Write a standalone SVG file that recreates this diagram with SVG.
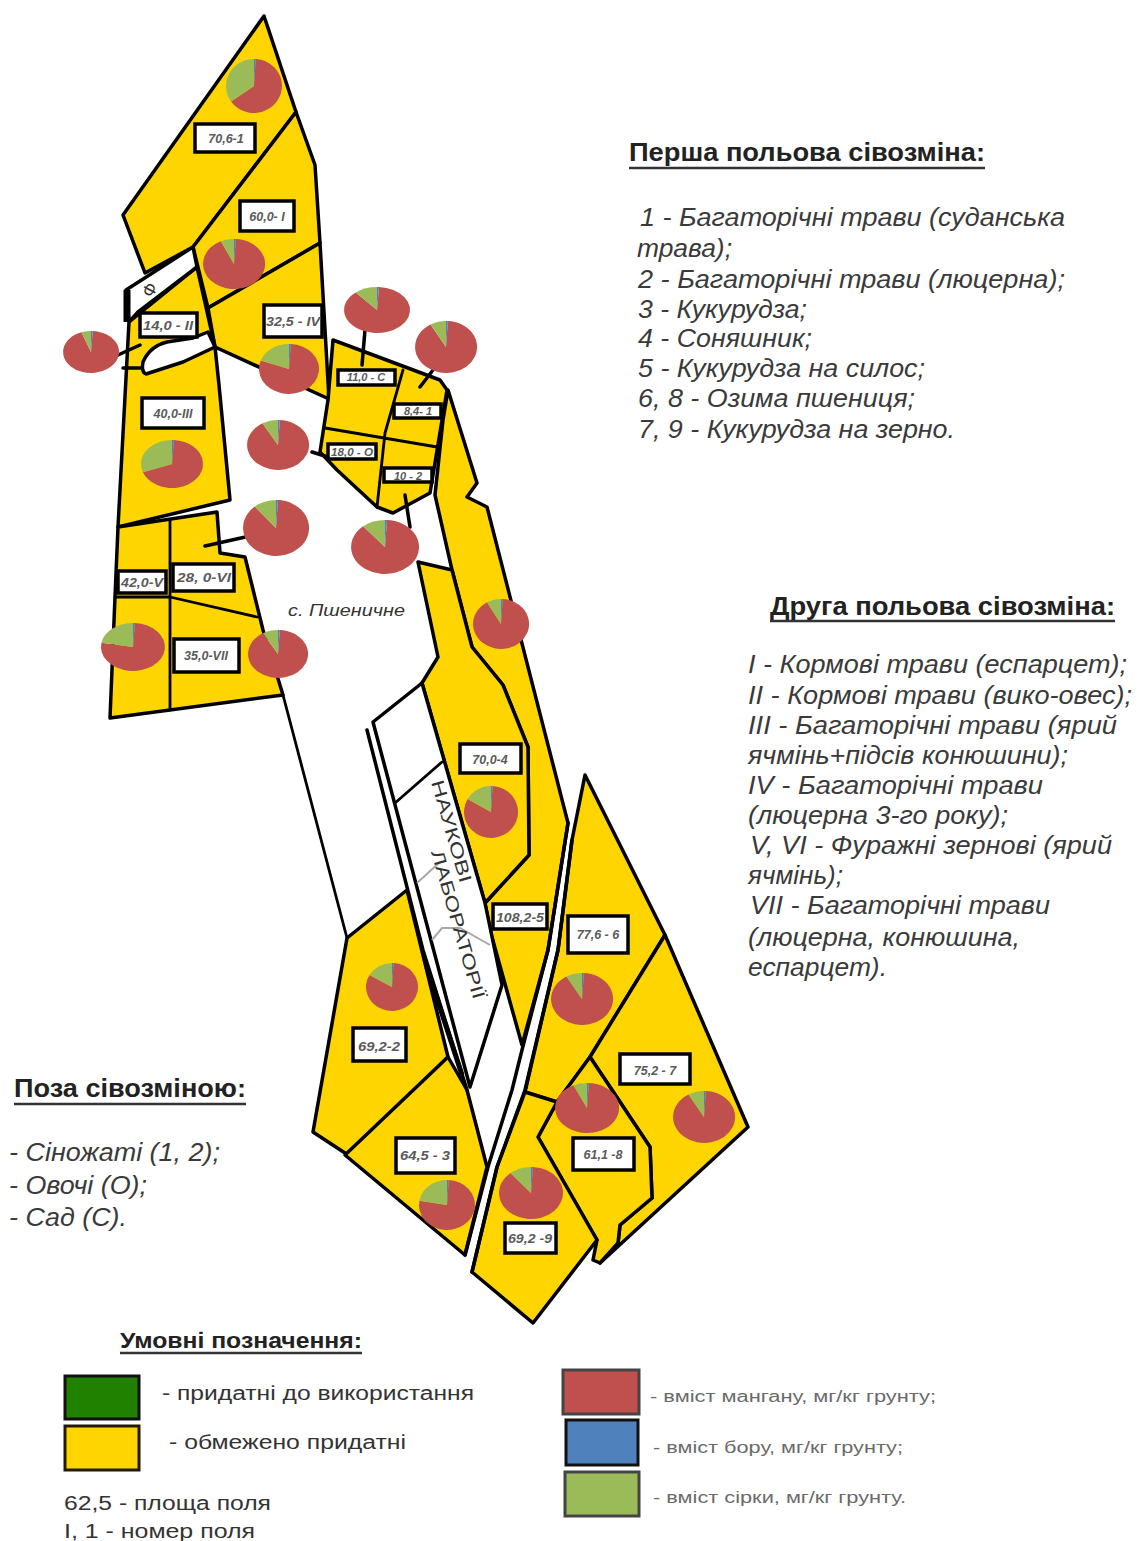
<svg xmlns="http://www.w3.org/2000/svg" width="1137" height="1541" viewBox="0 0 1137 1541">
<style>
text{font-family:"Liberation Sans",Arial,sans-serif;fill:#333}
.f{fill:#ffd500;stroke:#000;stroke-width:3.5;stroke-linejoin:round}
.w{fill:#fff;stroke:#000;stroke-width:3.5;stroke-linejoin:round}
.c{fill:none;stroke:#000;stroke-width:3.5;stroke-linecap:round;stroke-linejoin:round}
.t{stroke-width:2.8}
.k{stroke-width:7;stroke-linecap:butt}
.g{fill:none;stroke:#a8a8a8;stroke-width:2}
.b{fill:#fff;stroke:#000;stroke-width:3.5}
.l{font-size:12.5px;font-style:italic;font-weight:bold;fill:#5a5a5a;text-anchor:middle}
.l2{font-size:11px}
.h{font-size:25px;font-weight:bold;fill:#222}
.h2{font-size:22px}
.ul{stroke:#333;stroke-width:2.5}
.i{font-size:26px;font-style:italic;fill:#3a3a3a}
.m{font-size:20px;fill:#333}
.s{font-size:16px;fill:#6a6a6a}
.r{fill:#c0504d}.n{fill:#9bbb59}.u{fill:#4f81bd}
</style>
<defs>
<g id="p20"><path class="r" d="M0 0L.06 -1A1 1 0 1 1 -.342 -.94Z"/><path class="n" d="M0 0L-.342 -.94A1 1 0 0 1 0 -1Z"/><path class="u" d="M0 0L0 -1A1 1 0 0 1 .06 -1Z"/></g>
<g id="p25"><path class="r" d="M0 0L.06 -1A1 1 0 1 1 -.423 -.906Z"/><path class="n" d="M0 0L-.423 -.906A1 1 0 0 1 0 -1Z"/><path class="u" d="M0 0L0 -1A1 1 0 0 1 .06 -1Z"/></g>
<g id="p30"><path class="r" d="M0 0L.06 -1A1 1 0 1 1 -.5 -.866Z"/><path class="n" d="M0 0L-.5 -.866A1 1 0 0 1 0 -1Z"/><path class="u" d="M0 0L0 -1A1 1 0 0 1 .06 -1Z"/></g>
<g id="p40"><path class="r" d="M0 0L.06 -1A1 1 0 1 1 -.643 -.766Z"/><path class="n" d="M0 0L-.643 -.766A1 1 0 0 1 0 -1Z"/><path class="u" d="M0 0L0 -1A1 1 0 0 1 .06 -1Z"/></g>
<g id="p60"><path class="r" d="M0 0L.06 -1A1 1 0 1 1 -.866 -.5Z"/><path class="n" d="M0 0L-.866 -.5A1 1 0 0 1 0 -1Z"/><path class="u" d="M0 0L0 -1A1 1 0 0 1 .06 -1Z"/></g>
<g id="p70"><path class="r" d="M0 0L.06 -1A1 1 0 1 1 -.94 -.342Z"/><path class="n" d="M0 0L-.94 -.342A1 1 0 0 1 0 -1Z"/><path class="u" d="M0 0L0 -1A1 1 0 0 1 .06 -1Z"/></g>
<g id="p80"><path class="r" d="M0 0L.06 -1A1 1 0 1 1 -.985 -.174Z"/><path class="n" d="M0 0L-.985 -.174A1 1 0 0 1 0 -1Z"/><path class="u" d="M0 0L0 -1A1 1 0 0 1 .06 -1Z"/></g>
<g id="p110"><path class="r" d="M0 0L.06 -1A1 1 0 1 1 -.94 .342Z"/><path class="n" d="M0 0L-.94 .342A1 1 0 0 1 0 -1Z"/><path class="u" d="M0 0L0 -1A1 1 0 0 1 .06 -1Z"/></g>
<g id="p125"><path class="r" d="M0 0L.06 -1A1 1 0 1 1 -.819 .574Z"/><path class="n" d="M0 0L-.819 .574A1 1 0 0 1 0 -1Z"/><path class="u" d="M0 0L0 -1A1 1 0 0 1 .06 -1Z"/></g>
</defs>

<g id="fields">
<g id="field-1"><polygon class="f" points="264,16 296,112 193,247 145,273 123,215"/></g>
<g id="field-I"><polygon class="f" points="296,112 315,165 320,243 208,308 193,247"/></g>
<g id="field-IV"><polygon class="f" points="320,243 329,399 215,347 208,308"/></g>
<g id="field-III"><polygon class="f" points="129,322 197,267 215,347 219,385 230,500 118,527"/></g>
<g id="orchard-F"><polygon class="w" points="193,247 197,267 138,312 129,322 126,290"/></g>
<g id="gap-blob"><path class="w" d="M215 347L208 332L193 338L167 342Q150 346 143 362Q141 372 146 374L183 362Z"/></g>
<g id="field-V-VII"><polygon class="f" points="118,527 217,512 220,553 245,557 263,630 283,695 110,718 115,597"/></g>
<g id="fields-small"><polygon class="f" points="333,340 440,380 447,390 430,493 393,513 377,507 337,470 320,452 328,400"/></g>
<g id="strip-5"><polygon class="f" points="448,390 477,483 467,497 487,507 568,823 548,950 522,1045 490,930 485,903 529,855 528,747 503,685 472,647 452,570 435,495 443,420"/></g>
<g id="field-4"><polygon class="f" points="418,562 452,570 472,647 503,685 528,747 529,855 485,903 422,683 438,657"/></g>
<g id="lab"><polygon class="w" points="373,722 422,683 485,903 502,985 470,1087"/></g>
<g id="field-2"><polygon class="f" points="347,938 407,890 448,1057 348,1155 313,1132"/></g>
<g id="field-3"><polygon class="f" points="448,1057 467,1090 487,1167 465,1255 345,1155"/></g>
<g id="field-6"><polygon class="f" points="585,775 665,935 590,1057 557,1102 525,1092 558,950 572,840"/></g>
<g id="field-7"><polygon class="f" points="665,935 748,1127 600,1263 618,1243 620,1225 652,1198 650,1147 590,1057"/></g>
<g id="field-8"><polygon class="f" points="590,1057 650,1147 652,1198 620,1225 618,1243 600,1263 593,1260 597,1240 538,1137 557,1102"/></g>
<g id="field-9"><polygon class="f" points="525,1092 557,1102 538,1137 597,1240 533,1323 472,1272 497,1167"/></g>
</g>

<g id="connectors">
<path class="c" d="M118 355L140 345M123 368L142 368M365 330L362 365M433 370L420 387M312 452L328 457M205 546L250 536M405 495L410 527"/>
<path class="c t" d="M403 370L385 433L377 507M325 428L437 447M170 520L170 710M115 597L170 597L257 617M395 803L442 762"/>
<path class="c k" d="M127 290L127 322"/>
<path class="c" d="M367 730L423 950L467 1090"/>
<path class="c k" d="M431 980L462 1075" style="stroke-width:5"/>
<path class="c" d="M568 823L548 950L522 1050L512 1090L488 1167L465 1255"/>
<path class="c" d="M572 840L558 950L525 1090L497 1167L472 1272"/>
<path class="c t" d="M283 695L347 938"/>
<path class="g" d="M417 883L440 862M432 940L442 928L460 928L490 945"/>
</g>

<g id="labels">
<g id="lb-1"><rect class="b" x="195" y="124" width="60" height="28"/><text class="l" x="226" y="143">70,6-1</text></g>
<g id="lb-I"><rect class="b" x="240" y="201" width="54" height="30"/><text class="l" x="267" y="221">60,0- I</text></g>
<g id="lb-IV"><rect class="b" x="264" y="305" width="58" height="32"/><text class="l" x="293" y="326" textLength="54" lengthAdjust="spacingAndGlyphs">32,5 - IV</text></g>
<g id="lb-II"><rect class="b" x="140" y="313" width="57" height="24"/><text class="l" x="168" y="330" textLength="50" lengthAdjust="spacingAndGlyphs">14,0 - II</text></g>
<g id="lb-C"><rect class="b" x="338" y="370" width="57" height="15"/><text class="l l2" x="366" y="381">11,0 - C</text></g>
<g id="lb-III"><rect class="b" x="142" y="398" width="62" height="30"/><text class="l" x="173" y="418">40,0-III</text></g>
<g id="lb-81"><rect class="b" x="394" y="404" width="47" height="14"/><text class="l l2" x="418" y="415">8,4- 1</text></g>
<g id="lb-O"><rect class="b" x="328" y="444" width="48" height="15"/><text class="l l2" x="352" y="456" textLength="42" lengthAdjust="spacingAndGlyphs">18,0 - O</text></g>
<g id="lb-2s"><rect class="b" x="384" y="468" width="48" height="14"/><text class="l l2" x="408" y="480">10 - 2</text></g>
<g id="lb-V"><rect class="b" x="118" y="571" width="48" height="22"/><text class="l" x="142" y="587" textLength="42" lengthAdjust="spacingAndGlyphs">42,0-V</text></g>
<g id="lb-VI"><rect class="b" x="173" y="564" width="61" height="27"/><text class="l" x="204" y="582" textLength="54" lengthAdjust="spacingAndGlyphs">28, 0-VI</text></g>
<g id="lb-VII"><rect class="b" x="174" y="639" width="65" height="33"/><text class="l" x="206" y="660">35,0-VII</text></g>
<g id="lb-4"><rect class="b" x="460" y="744" width="61" height="29"/><text class="l" x="490" y="764">70,0-4</text></g>
<g id="lb-5"><rect class="b" x="493" y="904" width="54" height="25"/><text class="l" x="520" y="922" textLength="48" lengthAdjust="spacingAndGlyphs">108,2-5</text></g>
<g id="lb-6"><rect class="b" x="568" y="916" width="60" height="37"/><text class="l" x="598" y="939">77,6 - 6</text></g>
<g id="lb-2"><rect class="b" x="353" y="1028" width="53" height="33"/><text class="l" x="379" y="1051" textLength="42" lengthAdjust="spacingAndGlyphs">69,2-2</text></g>
<g id="lb-3"><rect class="b" x="396" y="1138" width="59" height="35"/><text class="l" x="425" y="1160" textLength="50" lengthAdjust="spacingAndGlyphs">64,5 - 3</text></g>
<g id="lb-7"><rect class="b" x="620" y="1054" width="70" height="30"/><text class="l" x="655" y="1075">75,2 - 7</text></g>
<g id="lb-8"><rect class="b" x="573" y="1138" width="61" height="32"/><text class="l" x="603" y="1159">61,1 -8</text></g>
<g id="lb-9"><rect class="b" x="505" y="1223" width="51" height="30"/><text class="l" x="530" y="1243" textLength="44" lengthAdjust="spacingAndGlyphs">69,2 -9</text></g>
<g id="place"><text x="288" y="616" font-size="17" font-style="italic" textLength="117" lengthAdjust="spacingAndGlyphs">с. Пшеничне</text></g>
<g id="lb-F"><text x="150" y="296" font-size="18" text-anchor="middle" transform="rotate(-62 150 290)">Ф</text></g>
<g id="lab-text">
<text x="431" y="782" font-size="18" transform="rotate(74 431 782)" textLength="106" lengthAdjust="spacingAndGlyphs">НАУКОВІ</text>
<text x="431" y="852" font-size="18" transform="rotate(74 431 852)" textLength="154" lengthAdjust="spacingAndGlyphs">ЛАБОРАТОРІЇ</text>
</g>
</g>

<g id="pies">
<use href="#p125" transform="translate(254 86) scale(28 27)"/>
<use href="#p25" transform="translate(234 264) scale(31 25)"/>
<use href="#p70" transform="translate(289 369) scale(30 25)"/>
<use href="#p40" transform="translate(377 310) scale(33 23)"/>
<use href="#p30" transform="translate(446 347) scale(31 26)"/>
<use href="#p20" transform="translate(91 352) scale(28 21)"/>
<use href="#p110" transform="translate(172 464) scale(31 24)"/>
<use href="#p30" transform="translate(278 445) scale(31 25)"/>
<use href="#p40" transform="translate(276 528) scale(33 28)"/>
<use href="#p40" transform="translate(385 547) scale(34 27)"/>
<use href="#p30" transform="translate(501 624) scale(28 25)"/>
<use href="#p80" transform="translate(133 647) scale(32 24)"/>
<use href="#p30" transform="translate(278 654) scale(30 24)"/>
<use href="#p60" transform="translate(491 812) scale(27 26)"/>
<use href="#p60" transform="translate(392 987) scale(26 24)"/>
<use href="#p30" transform="translate(582 999) scale(31 26)"/>
<use href="#p30" transform="translate(704 1117) scale(31 26)"/>
<use href="#p25" transform="translate(587 1108) scale(32 25)"/>
<use href="#p40" transform="translate(531 1193) scale(32 26)"/>
<use href="#p80" transform="translate(447 1205) scale(28 25)"/>
</g>

<g id="text-first">
<text class="h" x="629" y="161" textLength="356" lengthAdjust="spacingAndGlyphs">Перша польова сівозміна:</text><line class="ul" x1="629" y1="168" x2="985" y2="168"/>
<text class="i" x="640" y="226" textLength="425" lengthAdjust="spacingAndGlyphs">1 - Багаторічні трави (суданська</text>
<text class="i" x="637" y="257" textLength="95" lengthAdjust="spacingAndGlyphs">трава);</text>
<text class="i" x="638" y="288" textLength="427" lengthAdjust="spacingAndGlyphs">2 - Багаторічні трави (люцерна);</text>
<text class="i" x="638" y="318" textLength="169" lengthAdjust="spacingAndGlyphs">3 - Кукурудза;</text>
<text class="i" x="638" y="347" textLength="174" lengthAdjust="spacingAndGlyphs">4 - Соняшник;</text>
<text class="i" x="638" y="377" textLength="287" lengthAdjust="spacingAndGlyphs">5 - Кукурудза на силос;</text>
<text class="i" x="638" y="407" textLength="277" lengthAdjust="spacingAndGlyphs">6, 8 - Озима пшениця;</text>
<text class="i" x="638" y="438" textLength="317" lengthAdjust="spacingAndGlyphs">7, 9 - Кукурудза на зерно.</text>
</g>
<g id="text-second">
<text class="h" x="770" y="615" textLength="345" lengthAdjust="spacingAndGlyphs">Друга польова сівозміна:</text><line class="ul" x1="770" y1="621" x2="1115" y2="621"/>
<text class="i" x="748" y="673" textLength="379" lengthAdjust="spacingAndGlyphs">I - Кормові трави (еспарцет);</text>
<text class="i" x="748" y="704" textLength="384" lengthAdjust="spacingAndGlyphs">II - Кормові трави (вико-овес);</text>
<text class="i" x="748" y="734" textLength="369" lengthAdjust="spacingAndGlyphs">III - Багаторічні трави (ярий</text>
<text class="i" x="748" y="764" textLength="320" lengthAdjust="spacingAndGlyphs">ячмінь+підсів конюшини);</text>
<text class="i" x="748" y="794" textLength="295" lengthAdjust="spacingAndGlyphs">IV - Багаторічні трави</text>
<text class="i" x="748" y="824" textLength="260" lengthAdjust="spacingAndGlyphs">(люцерна 3-го року);</text>
<text class="i" x="750" y="854" textLength="362" lengthAdjust="spacingAndGlyphs">V, VI - Фуражні зернові (ярий</text>
<text class="i" x="748" y="884" textLength="95" lengthAdjust="spacingAndGlyphs">ячмінь);</text>
<text class="i" x="750" y="914" textLength="300" lengthAdjust="spacingAndGlyphs">VII - Багаторічні трави</text>
<text class="i" x="748" y="946" textLength="272" lengthAdjust="spacingAndGlyphs">(люцерна, конюшина,</text>
<text class="i" x="748" y="976" textLength="139" lengthAdjust="spacingAndGlyphs">еспарцет).</text>
</g>
<g id="text-outside">
<text class="h" x="14" y="1097" textLength="232" lengthAdjust="spacingAndGlyphs">Поза сівозміною:</text><line class="ul" x1="14" y1="1104" x2="246" y2="1104"/>
<text class="i" x="9" y="1161" textLength="211" lengthAdjust="spacingAndGlyphs">- Сіножаті (1, 2);</text>
<text class="i" x="9" y="1194" textLength="138" lengthAdjust="spacingAndGlyphs">- Овочі (О);</text>
<text class="i" x="9" y="1226" textLength="118" lengthAdjust="spacingAndGlyphs">- Сад (С).</text>
</g>
<g id="legend">
<text class="h h2" x="120" y="1348" textLength="242" lengthAdjust="spacingAndGlyphs">Умовні позначення:</text><line class="ul" x1="120" y1="1353" x2="362" y2="1353"/>
<rect x="65" y="1376" width="74" height="43" fill="#208000" stroke="#111" stroke-width="3"/>
<rect x="65" y="1426" width="74" height="44" fill="#ffd500" stroke="#221a00" stroke-width="3"/>
<text class="m" x="162" y="1400" textLength="312" lengthAdjust="spacingAndGlyphs">- придатні до використання</text>
<text class="m" x="169" y="1449" textLength="237" lengthAdjust="spacingAndGlyphs">- обмежено придатні</text>
<text class="m" x="64" y="1510" textLength="207" lengthAdjust="spacingAndGlyphs">62,5 - площа поля</text>
<text class="m" x="64" y="1538" textLength="191" lengthAdjust="spacingAndGlyphs">I, 1 - номер поля</text>
<rect x="563" y="1370" width="76" height="44" fill="#c0504d" stroke="#444" stroke-width="3"/>
<rect x="566" y="1420" width="72" height="45" fill="#4f81bd" stroke="#111" stroke-width="3"/>
<rect x="565" y="1472" width="74" height="44" fill="#9bbb59" stroke="#444" stroke-width="3"/>
<text class="s" x="650" y="1402" textLength="286" lengthAdjust="spacingAndGlyphs">- вміст мангану, мг/кг грунту;</text>
<text class="s" x="653" y="1453" textLength="250" lengthAdjust="spacingAndGlyphs">- вміст бору, мг/кг грунту;</text>
<text class="s" x="653" y="1503" textLength="253" lengthAdjust="spacingAndGlyphs">- вміст сірки, мг/кг грунту.</text>
</g>
</svg>
